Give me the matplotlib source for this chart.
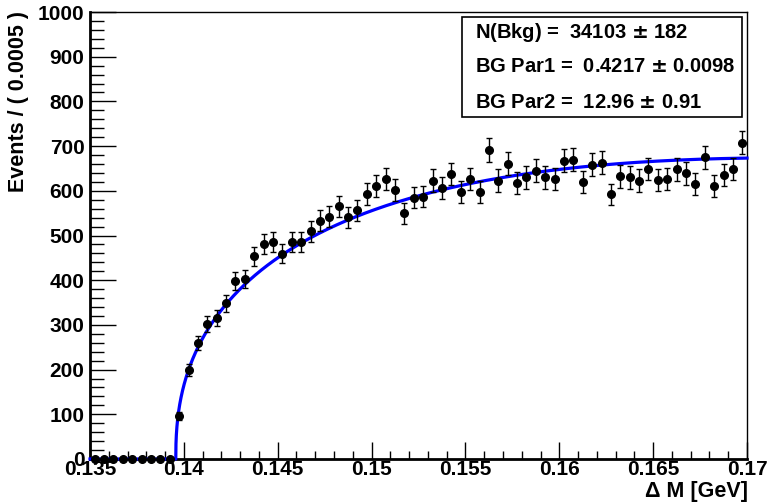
import matplotlib.pyplot as plt
import numpy as np

plt.rcParams['font.family'] = ['Liberation Sans', 'DejaVu Sans']
plt.rcParams['font.weight'] = 'bold'

# histogram: 70 bins of 0.0005 GeV between 0.135 and 0.17
bin_lo = 0.135
bin_w = 0.0005
counts = [0, 0, 0, 0, 0, 0, 0, 0, 0, 96,
          199, 259, 302, 315, 348, 399, 402, 454, 481, 486,
          459, 486, 485, 509, 533, 542, 565, 541, 556, 593,
          611, 626, 602, 550, 585, 587, 623, 607, 638, 597,
          627, 598, 691, 623, 660, 617, 630, 645, 630, 626,
          667, 670, 619, 658, 663, 592, 632, 630, 623, 649,
          624, 626, 648, 639, 615, 675, 611, 635, 649, 708]

# fit result shown in the box
n_bkg = 34103
par1 = 0.4217
par2 = 12.96
m_pi = 0.13957

counts = np.array(counts, dtype=float)
centers = bin_lo + bin_w * (np.arange(len(counts)) + 0.5)
errs = np.sqrt(counts)

fig = plt.figure(figsize=(7.67, 5.04), dpi=100)
ax = fig.add_axes([90 / 767, 1 - 459 / 504, 657 / 767, 447 / 504])

# background shape (x - m_pi)^p1 * exp(-p2 (x - m_pi)), scaled to N(Bkg)
xf = np.linspace(0.135, 0.17, 3501)
d = np.clip(xf - m_pi, 0, None)
shape = d ** par1 * np.exp(-par2 * d)
shape[xf < m_pi] = 0
norm = n_bkg * bin_w / np.trapezoid(shape, xf)
ax.plot(xf, shape * norm, color='#0000ff', lw=2.3, zorder=3, clip_on=False)

ax.errorbar(centers, counts, yerr=errs, fmt='o', color='black', ms=5.5,
            ecolor='black', elinewidth=1, capsize=2, capthick=1, zorder=4,
            clip_on=False)

ax.set_xlim(0.135, 0.17)
ax.set_ylim(0, 1000)
ax.set_xticks(np.arange(0.135, 0.1701, 0.005))
ax.set_xticklabels(['0.135', '0.14', '0.145', '0.15', '0.155', '0.16', '0.165', '0.17'])
ax.set_xticks(np.arange(0.135, 0.1701, 0.001), minor=True)
ax.set_yticks(np.arange(0, 1001, 100))
ax.set_yticks(np.arange(0, 1001, 20), minor=True)
ax.tick_params(which='both', direction='in', labelsize=15, width=1, top=False, right=False)
ax.tick_params(which='major', axis='y', length=19, pad=4)
ax.tick_params(which='minor', axis='y', length=10)
ax.tick_params(which='major', axis='x', length=12, pad=1)
ax.tick_params(which='minor', axis='x', length=6)
for lab in ax.get_xticklabels() + ax.get_yticklabels():
    lab.set_fontweight('bold')

ax.spines['left'].set_linewidth(2)
ax.spines['bottom'].set_linewidth(2)
ax.spines['top'].set_linewidth(1)
ax.spines['right'].set_linewidth(1)
for sp in ax.spines.values():
    sp.set_zorder(2)

fig.text(748 / 767, 1 - 492 / 504, 'Δ M [GeV]', ha='right', va='center',
         fontsize=15.5, fontweight='bold')
fig.text(19 / 767, 1 - 11 / 504, 'Events / ( 0.0005 )', rotation=90,
         ha='center', va='top', fontsize=15.5, fontweight='bold')

# parameter box
box = plt.Rectangle((462 / 767, 1 - 117 / 504), 280 / 767, 100 / 504,
                    transform=fig.transFigure, fill=False, edgecolor='black', lw=1.2)
fig.patches.append(box)
lines = ['N(Bkg) =  %d $\\pm$ %d' % (n_bkg, 182),
         'BG Par1 =  %.4f $\\pm$ 0.0098' % par1,
         'BG Par2 =  %.2f $\\pm$ 0.91' % par2]
for i, s in enumerate(lines):
    fig.text(475 / 767, 1 - (32 + 35 * i) / 504, s, ha='left', va='center',
             fontsize=14.5, fontweight='bold')

plt.savefig('out.png', dpi=100)
